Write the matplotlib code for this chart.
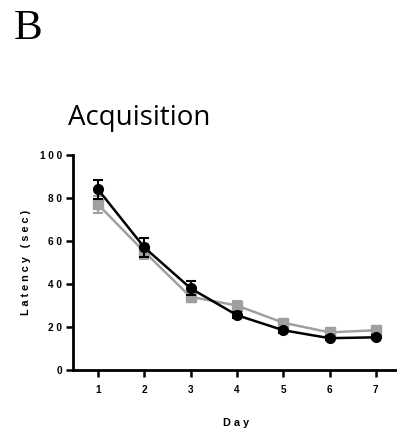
import matplotlib
matplotlib.use("Agg")
import matplotlib.pyplot as plt
import numpy as np

days = [1, 2, 3, 4, 5, 6, 7]
black_mean = [84, 57, 38, 25.5, 18.5, 14.8, 15.2]
black_err = [4.5, 4.5, 3.2, 1.5, 1.2, 1.0, 1.0]
gray_mean = [77, 55, 34, 30, 22, 17.5, 18.5]
gray_err = [4.0, 3.5, 2.5, 2.0, 1.5, 1.2, 1.2]
yticks = [0, 20, 40, 60, 80, 100]
ytick_labels = ["0", "2 0", "4 0", "6 0", "8 0", "1 0 0"]
xtick_labels = ["1", "2", "3", "4", "5", "6", "7"]

W, H = 397, 428
fig = plt.figure(figsize=(W / 100, H / 100), dpi=100)
x_left, x_right = 73, 399
y_bot, y_top = 370, 155
ax = fig.add_axes([x_left / W, 1 - y_bot / H, (x_right - x_left) / W, (y_bot - y_top) / H])

ax.errorbar(days, gray_mean, yerr=gray_err, color="#a0a0a0", marker="s", markersize=7,
            linewidth=1.8, elinewidth=1.5, capsize=3.5, capthick=1.5, zorder=3)
ax.errorbar(days, black_mean, yerr=black_err, color="black", marker="o", markersize=7,
            linewidth=1.8, elinewidth=1.5, capsize=3.5, capthick=1.5, zorder=4)

ax.set_xlim(0.46, 7.5)
ax.set_ylim(0, 100)
ax.set_yticks(yticks)
ax.set_yticklabels(ytick_labels)
ax.set_xticks(days)
ax.set_xticklabels(xtick_labels)

for s in ["top", "right"]:
    ax.spines[s].set_visible(False)
for s in ["left", "bottom"]:
    ax.spines[s].set_linewidth(2)
ax.tick_params(axis="both", width=1.8, length=5, labelsize=7.2, pad=3)
ax.tick_params(axis="x", pad=6)
for lab in ax.get_xticklabels() + ax.get_yticklabels():
    lab.set_fontweight("bold")
    lab.set_family("Liberation Sans")

ax.set_ylabel("L a t e n c y   ( s e c )", fontsize=7.8, fontweight="bold",
              family="Liberation Sans", labelpad=6)
ax.set_xlabel("D a y", fontsize=7.8, fontweight="bold", family="Liberation Sans", labelpad=16)

fig.text(68 / W, 1 - 118 / H, "Acquisition", fontsize=20, family="Open Sans",
         ha="left", va="center")
fig.text(14 / W, 1 - 29 / H, "B", fontsize=31, family="Liberation Serif",
         ha="left", va="center")

fig.savefig("out.png", dpi=100)
